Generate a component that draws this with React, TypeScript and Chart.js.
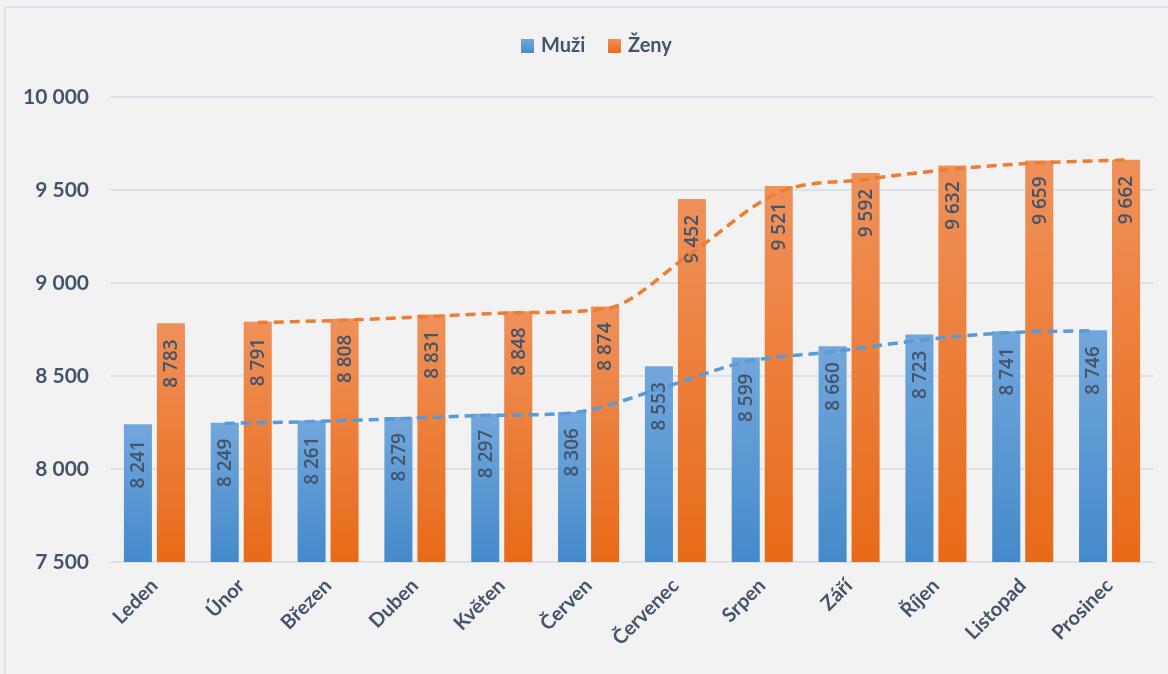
import React, { useEffect, useRef } from "react";
import { Chart, registerables } from "chart.js";

Chart.register(...registerables);

const months = ["Leden", "Únor", "Březen", "Duben", "Květen", "Červen", "Červenec", "Srpen", "Září", "Říjen", "Listopad", "Prosinec"];
const muzi = [8241, 8249, 8261, 8279, 8297, 8306, 8553, 8599, 8660, 8723, 8741, 8746];
const zeny = [8783, 8791, 8808, 8831, 8848, 8874, 9452, 9521, 9592, 9632, 9659, 9662];
// dashed trend lines (start at Únor)
const muziTrend = [null, 8245, 8255, 8270, 8288, 8302, 8430, 8576, 8630, 8692, 8732, 8744];
const zenyTrend = [null, 8787, 8800, 8820, 8840, 8861, 9163, 9487, 9557, 9612, 9646, 9661];
const yTicks = [7500, 8000, 8500, 9000, 9500, 10000];

const TEXT = "#44546a";
const FONT = "Lato, 'Open Sans', sans-serif";
const SHIFT = 0.19; // fraction of a category between group centre and bar centre

const fmt = (v: number) => {
  const s = String(Math.round(v));
  return s.replace(/\B(?=(\d{3})+(?!\d))/g, " ");
};

const gradFill = (top: string, bottom: string) => (ctx: any) => {
  const chart = ctx.chart;
  const area = chart.chartArea;
  const ys = chart.scales && chart.scales.y;
  if (!area || !ys || ctx.raw == null) return bottom;
  const t = ys.getPixelForValue(ctx.raw);
  const g = chart.ctx.createLinearGradient(0, t, 0, area.bottom);
  g.addColorStop(0, top);
  g.addColorStop(1, bottom);
  return g;
};

// move each trend point over the centre of its own bar
const shiftPlugin = {
  id: "shiftLines",
  afterDatasetsUpdate(chart: any) {
    const xs = chart.scales.x;
    const step = xs.getPixelForValue(1) - xs.getPixelForValue(0);
    chart.data.datasets.forEach((ds: any, i: number) => {
      const meta = chart.getDatasetMeta(i);
      if (meta.type !== "line") return;
      const dir = ds.shiftDir || 0;
      meta.data.forEach((pt: any) => {
        pt.x = pt.x + dir * SHIFT * step;
      });
      if (meta.dataset) meta.dataset._pointsUpdated = false;
    });
  },
};

const labelPlugin = {
  id: "barLabels",
  afterDatasetDraw(chart: any, args: any) {
    const meta = args.meta;
    if (meta.type !== "bar") return;
    const ctx = chart.ctx;
    const data = chart.data.datasets[args.index].data as number[];
    ctx.save();
    ctx.fillStyle = TEXT;
    ctx.font = `600 19px 'Open Sans', sans-serif`;
    ctx.textAlign = "right";
    ctx.textBaseline = "middle";
    meta.data.forEach((el: any, i: number) => {
      ctx.save();
      ctx.translate(el.x, el.y + 16);
      ctx.rotate(-Math.PI / 2);
      ctx.fillText(fmt(data[i]), 0, 1);
      ctx.restore();
    });
    ctx.restore();
  },
};

const legendPlugin = {
  id: "customLegend",
  afterDraw(chart: any) {
    const ctx = chart.ctx;
    ctx.save();
    ctx.font = `bold 20px ${FONT}`;
    ctx.textBaseline = "middle";
    ctx.textAlign = "left";
    const items = [
      { label: "Muži", top: "#72a7dc", bottom: "#478dcb", x: 521 },
      { label: "Ženy", top: "#f0915a", bottom: "#e96c1a", x: 608 },
    ];
    items.forEach((it) => {
      const g = ctx.createLinearGradient(0, 39, 0, 53);
      g.addColorStop(0, it.top);
      g.addColorStop(1, it.bottom);
      ctx.fillStyle = g;
      ctx.fillRect(it.x, 39, 13, 14);
      ctx.fillStyle = TEXT;
      ctx.fillText(it.label, it.x + 20, 46);
    });
    ctx.restore();
  },
};

function App() {
  const ref = useRef<HTMLCanvasElement | null>(null);
  useEffect(() => {
    if (!ref.current) return;
    const chart = new Chart(ref.current, {
      type: "bar",
      data: {
        labels: months,
        datasets: [
          {
            type: "bar",
            label: "Muži",
            data: muzi,
            backgroundColor: gradFill("#72a7dc", "#448acb"),
            categoryPercentage: 0.76,
            barPercentage: 0.85,
            order: 2,
          },
          {
            type: "bar",
            label: "Ženy",
            data: zeny,
            backgroundColor: gradFill("#f0915a", "#e86a18"),
            categoryPercentage: 0.76,
            barPercentage: 0.85,
            order: 2,
          },
          {
            type: "line",
            label: "Muži trend",
            data: muziTrend,
            shiftDir: -1,
            borderColor: "#5b9bd5",
            borderWidth: 3.5,
            borderDash: [10, 6],
            pointRadius: 0,
            cubicInterpolationMode: "monotone",
            fill: false,
            order: 1,
          },
          {
            type: "line",
            label: "Ženy trend",
            data: zenyTrend,
            shiftDir: 1,
            borderColor: "#ed7d31",
            borderWidth: 3.5,
            borderDash: [10, 6],
            pointRadius: 0,
            cubicInterpolationMode: "monotone",
            fill: false,
            order: 1,
          },
        ],
      },
      options: {
        animation: false,
        responsive: false,
        maintainAspectRatio: false,
        layout: { padding: { top: 97, right: 15, bottom: 0, left: 0 } },
        plugins: {
          legend: { display: false },
          tooltip: { enabled: false },
        },
        scales: {
          x: {
            type: "category",
            offset: true,
            grid: { display: false, drawTicks: false },
            border: { display: false },
            ticks: {
              color: TEXT,
              font: { family: FONT, size: 20, weight: "bold" },
              minRotation: 45,
              maxRotation: 45,
              padding: 12,
            },
            afterFit: (s: any) => {
              s.height = 112;
            },
          },
          y: {
            min: 7500,
            max: 10000,
            grid: { color: "#dce1e8", lineWidth: 2, drawTicks: false },
            border: { display: false },
            afterBuildTicks: (s: any) => {
              s.ticks = yTicks.map((v) => ({ value: v }));
            },
            ticks: {
              color: TEXT,
              font: { family: FONT, size: 21, weight: "bold" },
              padding: 22,
              callback: (v: any) => fmt(Number(v)),
            },
            afterFit: (s: any) => {
              s.width = 111;
            },
          },
        },
      },
      plugins: [shiftPlugin, labelPlugin, legendPlugin],
    } as any);
    return () => chart.destroy();
  }, []);

  return (
    <div style={{ position: "fixed", left: 0, top: 0, width: 1168, height: 674, background: "#f2f2f2", overflow: "hidden" }}>
      <div style={{ position: "absolute", left: 4, top: 6, width: 1170, height: 700, border: "2px solid #dde3ea", boxSizing: "border-box" }} />
      <canvas ref={ref} width={1168} height={674} style={{ position: "absolute", left: 0, top: 0 }} />
    </div>
  );
}

export default App;
